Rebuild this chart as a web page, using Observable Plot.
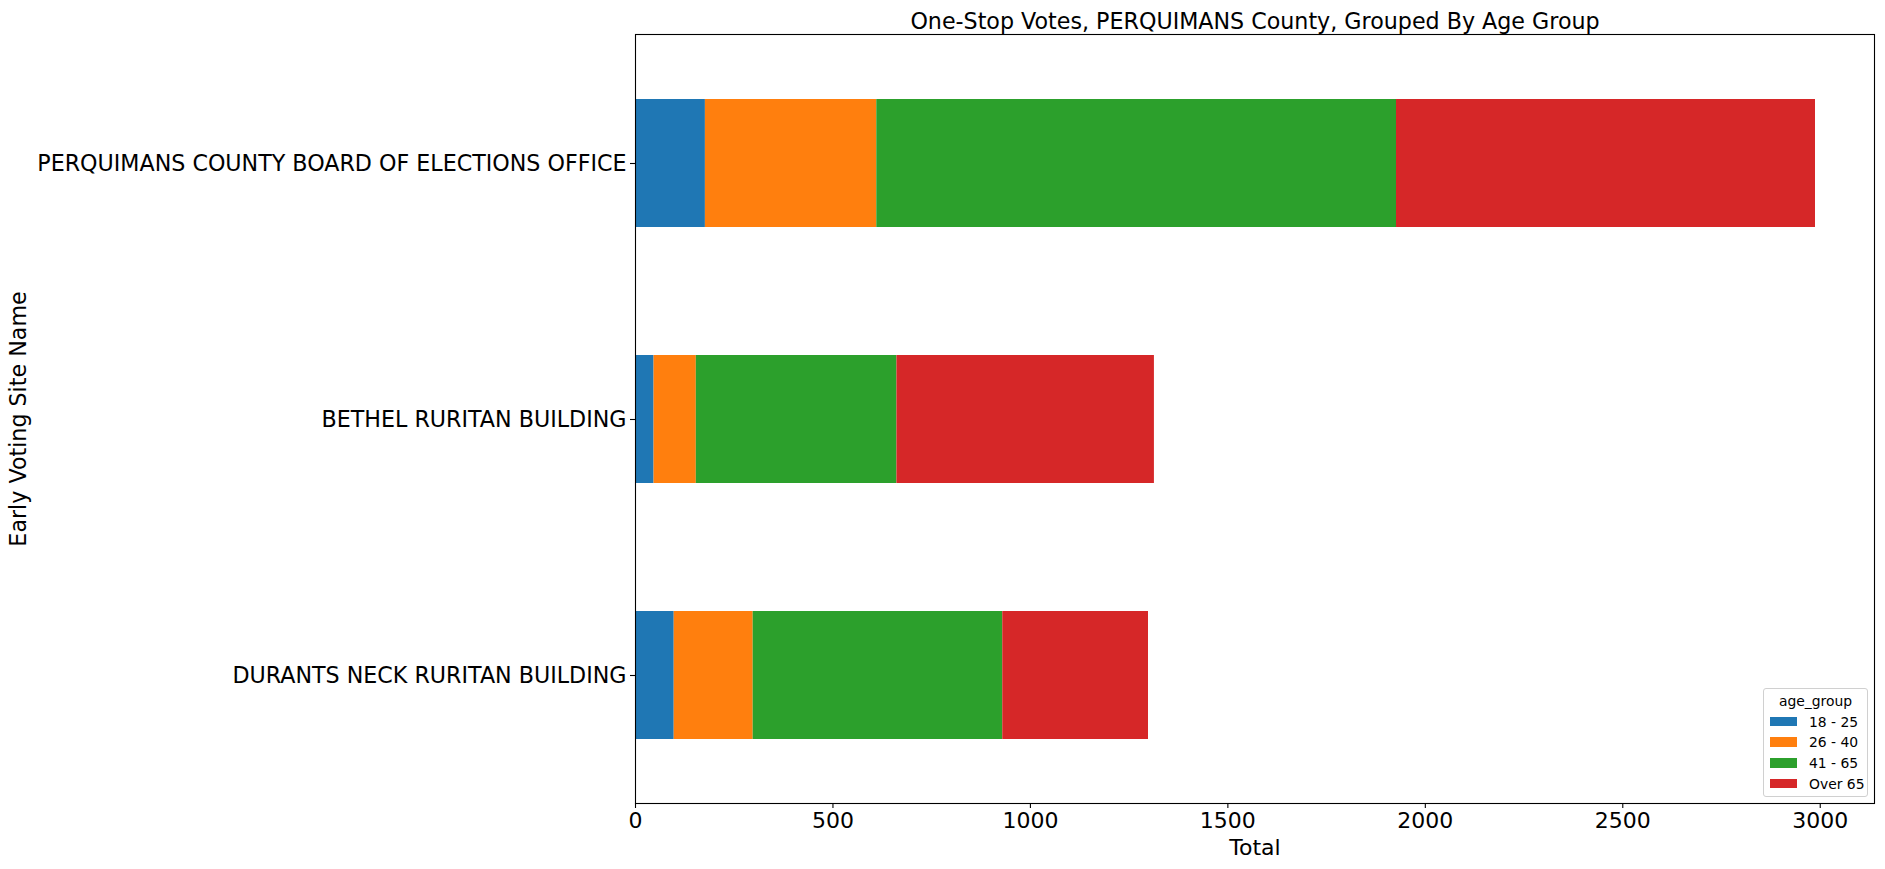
<!DOCTYPE html>
<html><head><meta charset="utf-8">
<script src="https://cdn.jsdelivr.net/npm/d3@7"></script>
<script src="https://cdn.jsdelivr.net/npm/@observablehq/plot@0.6"></script>
<style>
html,body{margin:0;padding:0;background:#fff;}
#wrap{position:relative;width:1885px;height:869px;font-family:"DejaVu Sans",sans-serif;}
#legend{position:absolute;left:1763px;top:688px;width:103px;height:107px;border:1px solid #d0d0d0;border-radius:3px;background:rgba(255,255,255,0.8);box-sizing:content-box;font-size:13.9px;color:#000;}
#legend .ttl{position:absolute;left:0;right:0;top:4px;text-align:center;line-height:17px;}
#legend .row{position:absolute;left:6px;height:17px;display:flex;align-items:center;}
#legend .sw{width:27px;height:9.5px;margin-right:12px;}
</style></head><body><div id="wrap"></div>
<script>
const sites = ["PERQUIMANS COUNTY BOARD OF ELECTIONS OFFICE", "BETHEL RURITAN BUILDING", "DURANTS NECK RURITAN BUILDING"];
const ageGroups = ["18 - 25", "26 - 40", "41 - 65", "Over 65"];
const groupColors = ["#1f77b4", "#ff7f0e", "#2ca02c", "#d62728"];
const v18to25 = [177, 47, 98];
const v26to40 = [434, 107, 200];
const v41to65 = [1316, 508, 632];
const vOver65 = [1061, 652, 369];
const xTicks = [0, 500, 1000, 1500, 2000, 2500, 3000];
const titleText = "One-Stop Votes, PERQUIMANS County, Grouped By Age Group";
const xLabel = "Total";
const yLabel = "Early Voting Site Name";
const legendTitle = "age_group";

const series = [v18to25, v26to40, v41to65, vOver65];
const data = [];
sites.forEach((s, i) => ageGroups.forEach((g, j) => data.push({site: s, group: g, value: series[j][i]})));
const maxTotal = d3.max(sites.map((s, i) => d3.sum(series, a => a[i])));

const chart = Plot.plot({
  width: 1885, height: 869,
  marginLeft: 635, marginRight: 11, marginTop: 34, marginBottom: 66,
  style: {fontFamily: "DejaVu Sans, sans-serif", fontSize: "22px", color: "black", background: "white", overflow: "visible"},
  x: {domain: [0, maxTotal * 1.05]},
  y: {domain: sites, paddingInner: 0.5, paddingOuter: 0.25, align: 0.5},
  color: {domain: ageGroups, range: groupColors},
  marks: [
    Plot.barX(data, Plot.stackX({y: "site", x: "value", fill: "group", order: ageGroups, inset: 0})),
    Plot.frame({stroke: "black", strokeWidth: 1.1}),
    Plot.axisX({ticks: xTicks, tickFormat: d => String(d), tickSize: 5, tickPadding: 4, fontSize: 22, label: xLabel, labelAnchor: "center", labelArrow: "none", labelOffset: 51, stroke: "black", strokeWidth: 1.1}),
    Plot.axisY({tickSize: 5, tickPadding: 4, fontSize: 22.2, label: yLabel, labelAnchor: "center", labelArrow: "none", labelOffset: 625, stroke: "black", strokeWidth: 1.1}),
    Plot.text([titleText], {frameAnchor: "top", dy: -21, fontSize: 22.2, fill: "black", text: d => d})
  ]
});
const wrap = document.getElementById("wrap");
wrap.appendChild(chart);

const lg = document.createElement("div");
lg.id = "legend";
const t = document.createElement("div");
t.className = "ttl"; t.textContent = legendTitle; lg.appendChild(t);
ageGroups.forEach((g, j) => {
  const r = document.createElement("div");
  r.className = "row";
  r.style.top = (24 + j * 20.7) + "px";
  const sw = document.createElement("div");
  sw.className = "sw"; sw.style.background = groupColors[j];
  const tx = document.createElement("span"); tx.textContent = g;
  r.appendChild(sw); r.appendChild(tx);
  lg.appendChild(r);
});
wrap.appendChild(lg);
</script>
</body></html>
